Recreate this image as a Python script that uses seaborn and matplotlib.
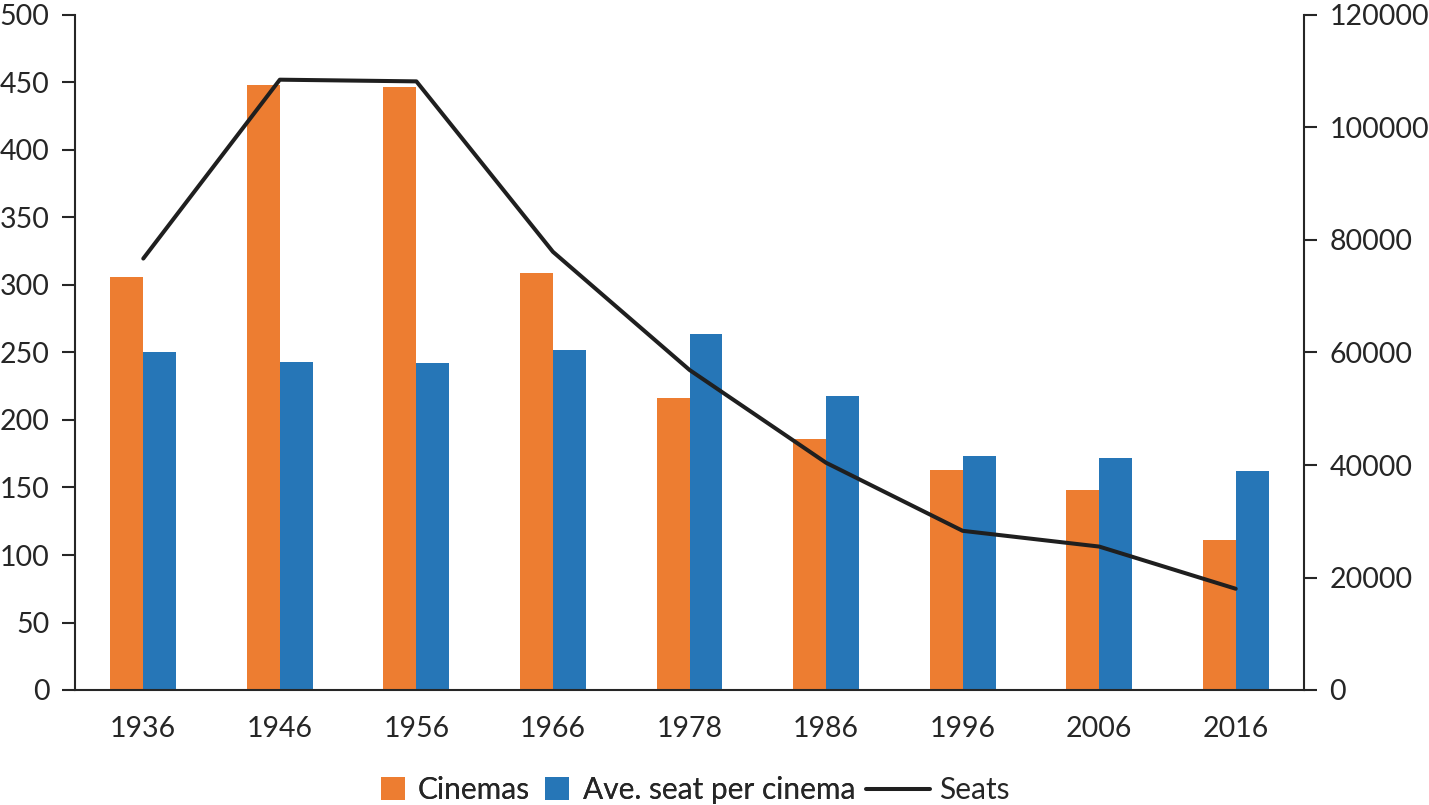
import numpy as np
import pandas as pd
import matplotlib
matplotlib.use("Agg")
import matplotlib.pyplot as plt
import seaborn as sns
from matplotlib.patches import Patch
from matplotlib.lines import Line2D

# ---- data ----
years = ["1936", "1946", "1956", "1966", "1978", "1986", "1996", "2006", "2016"]
cinemas = [306, 448, 447, 309, 216, 186, 163, 148, 111]
avg_seat = [250, 243, 242, 252, 264, 218, 173, 172, 162]
seats = [76700, 108500, 108200, 77900, 56900, 40400, 28300, 25500, 18000]
series_names = ["Cinemas", "Ave. seat per cinema", "Seats"]
left_ticks = [0, 50, 100, 150, 200, 250, 300, 350, 400, 450, 500]
right_ticks = [0, 20000, 40000, 60000, 80000, 100000, 120000]

ORANGE = "#ED7D31"
BLUE = "#2676B7"
LINE = "#1f1f1f"
INK = "#262626"
FS = 20.5
LFS = 21.5

sns.set_theme(style="white")
plt.rcParams["font.family"] = ["Lato", "DejaVu Sans"]
plt.rcParams["text.color"] = INK
plt.rcParams["xtick.color"] = INK
plt.rcParams["ytick.color"] = INK

W, H = 1429, 805
fig = plt.figure(figsize=(W / 100, H / 100), dpi=100)
ax = fig.add_axes([75 / W, 1 - 690 / H, (1304 - 75) / W, (690 - 15) / H])

df = pd.DataFrame({
    "Year": years * 2,
    "value": cinemas + avg_seat,
    "series": [series_names[0]] * len(years) + [series_names[1]] * len(years),
})
sns.barplot(data=df, x="Year", y="value", hue="series", palette=[ORANGE, BLUE],
            width=0.483, saturation=1, legend=False, ax=ax, edgecolor="none")
ax.set_xlim(-0.5, len(years) - 0.5)
ax.set_ylim(0, 500)
ax.set_yticks(left_ticks)
ax.set_yticklabels([str(t) for t in left_ticks], fontsize=FS)
ax.set_xlabel("")
ax.set_ylabel("")

# x ticks: marks at group boundaries, labels at centres
ax.set_xticks(np.arange(-0.5, len(years), 1.0))
ax.set_xticklabels([])
ax.set_xticks(np.arange(len(years)), minor=True)
ax.set_xticklabels(years, minor=True, fontsize=FS)
ax.tick_params(axis="x", which="major", length=9.4, width=1.5, direction="out", color=INK)
ax.tick_params(axis="x", which="minor", length=0, pad=19)
ax.tick_params(axis="y", length=9.4, width=1.5, direction="out", pad=9, color=INK, left=True)

ax2 = ax.twinx()
sns.lineplot(x=np.arange(len(years)), y=seats, ax=ax2, color=LINE, linewidth=2.9, legend=False)
ax2.set_ylim(0, 120000)
ax2.set_yticks(right_ticks)
ax2.set_yticklabels([str(t) for t in right_ticks], fontsize=FS)
ax2.set_ylabel("")
ax2.tick_params(axis="y", length=9.4, width=1.5, direction="out", pad=9, color=INK, right=True)
ax.set_xlim(-0.5, len(years) - 0.5)

for a in (ax, ax2):
    a.grid(False)
    a.spines["top"].set_visible(False)
    for s in a.spines.values():
        s.set_color(INK)
        s.set_linewidth(1.5)
ax.spines["right"].set_visible(False)
ax2.spines["left"].set_visible(False)
ax2.spines["bottom"].set_visible(False)

# legends
leg_y = 1 - 790 / H
h1 = [Patch(facecolor=ORANGE, edgecolor="none"), Patch(facecolor=BLUE, edgecolor="none")]
leg1 = fig.legend(h1, series_names[:2], loc="center right", bbox_to_anchor=(855 / W, leg_y),
                  bbox_transform=fig.transFigure, ncol=2, frameon=False, fontsize=LFS,
                  handlelength=0.8, handleheight=0.8, handletextpad=0.45,
                  columnspacing=0.5, borderpad=0, borderaxespad=0)
h2 = [Line2D([0], [0], color=LINE, linewidth=2.9)]
leg2 = fig.legend(h2, series_names[2:], loc="center left", bbox_to_anchor=(866 / W, leg_y),
                  bbox_transform=fig.transFigure, frameon=False, fontsize=LFS,
                  handlelength=2.15, handletextpad=0.3, borderpad=0, borderaxespad=0)
fig.add_artist(leg1)

fig.savefig("out.png", dpi=100)
